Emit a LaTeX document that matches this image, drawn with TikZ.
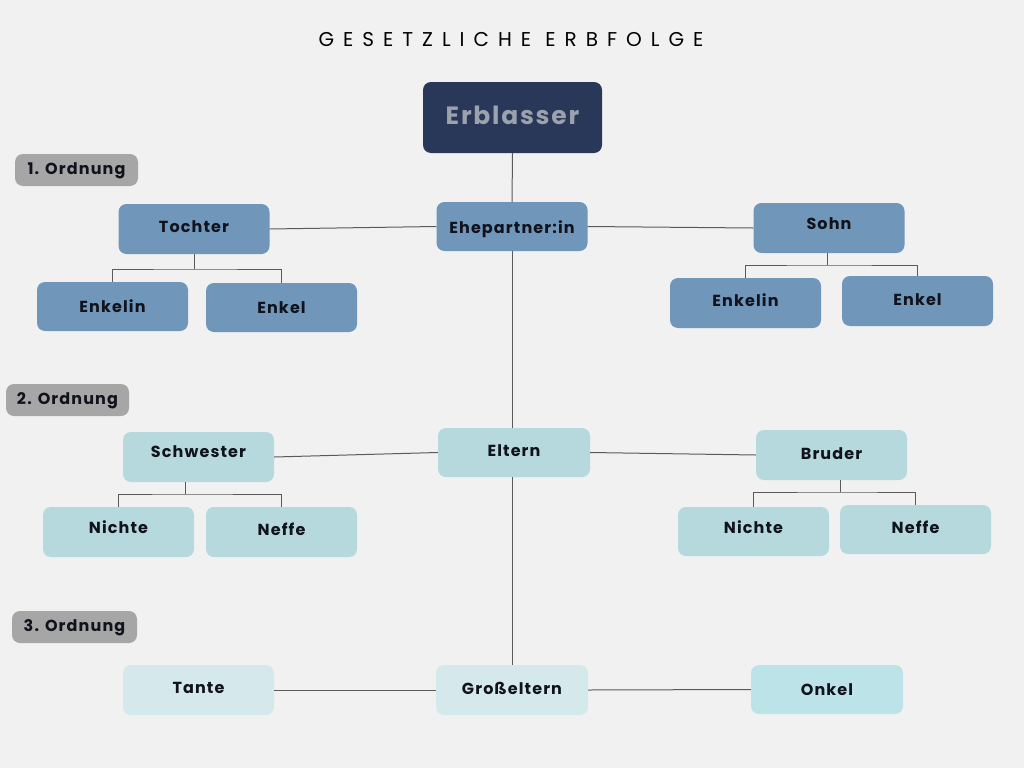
\documentclass[tikz,border=0pt]{standalone}
\usepackage{fontspec}
\setmainfont{Poppins}[BoldFont=* Bold, LetterSpace=7]
\newfontfamily\titlefont{Poppins}[LetterSpace=45]
\definecolor{bg}{HTML}{F1F1F1}
\definecolor{navy}{HTML}{293858}
\definecolor{navytext}{HTML}{9BA1AD}
\definecolor{midblue}{HTML}{7096B9}
\definecolor{teal}{HTML}{B5D9DC}
\definecolor{pale}{HTML}{D5E9ED}
\definecolor{onkelc}{HTML}{BCE3E8}
\definecolor{labelgrey}{HTML}{A6A6A6}
\definecolor{linec}{HTML}{5A5A5A}
\definecolor{txt}{HTML}{10121C}
\begin{document}
\begin{tikzpicture}[x=1pt,y=-1pt,
  box/.style={rounded corners=8pt, minimum width=151pt, minimum height=50pt, inner sep=0pt,
    text height=11pt, text depth=0pt,
    font=\fontsize{16}{19}\selectfont\bfseries, text=txt},
  up/.style={text depth=#1},
  b1/.style={box, fill=midblue},
  b2/.style={box, fill=teal},
  b3/.style={box, fill=pale},
  lab/.style={rounded corners=8pt, fill=labelgrey, minimum width=123pt, minimum height=32pt, inner sep=0pt,
    text height=11pt, text depth=2pt,
    font=\fontsize{16}{19}\selectfont\bfseries, text=txt},
  conn/.style={draw=linec, line width=1pt}]
\useasboundingbox (0,0) rectangle (1024,768);
\fill[bg] (0,0) rectangle (1024,768);
\node[text height=14pt, text depth=0pt, inner sep=0pt] (title) at (511,40) {\titlefont\fontsize{20}{24}\selectfont GESETZLICHE ERBFOLGE};
\node[box, fill=navy, text=navytext, minimum width=179pt, minimum height=71pt, text height=17.5pt, text depth=4pt, font=\fontsize{25}{30}\selectfont\bfseries] (erb) at (512.5,117.5) {Erblasser};
\node[lab] (o1) at (76.5,170) {1. Ordnung};
\node[lab] (o2) at (67.5,400) {2. Ordnung};
\node[lab, minimum width=125pt] (o3) at (74.5,627) {3. Ordnung};
% 1. Ordnung
\node[b1, up=4pt] (toch) at (194,229) {Tochter};
\node[b1, minimum height=49pt, text height=14pt] (ehe) at (512,226.5) {Ehepartner:in};
\node[b1, up=8pt] (sohn) at (829,228) {Sohn};
\node[b1, minimum height=49pt] (enkinL) at (112.5,306.5) {Enkelin};
\node[b1, minimum height=49pt] (enkL) at (281.5,307.5) {Enkel};
\node[b1, up=4pt] (enkinR) at (745.5,303) {Enkelin};
\node[b1, up=2pt] (enkR) at (917.5,301) {Enkel};
% 2. Ordnung
\node[b2, up=10pt] (schw) at (198.5,457) {Schwester};
\node[b2, minimum width=152pt, minimum height=49pt, up=3pt] (elt) at (514,452.5) {Eltern};
\node[b2, up=2pt] (brud) at (831.5,455) {Bruder};
\node[b2, up=8pt] (nichL) at (118.5,532) {Nichte};
\node[b2, up=4pt] (neffL) at (281.5,532) {Neffe};
\node[b2, minimum height=49pt, up=8pt] (nichR) at (753.5,531.5) {Nichte};
\node[b2, minimum height=49pt, up=4pt] (neffR) at (915.5,529.5) {Neffe};
% 3. Ordnung
\node[b3, up=4pt] (tante) at (198.5,690) {Tante};
\node[b3, minimum width=152pt, up=2pt] (gross) at (512,690) {Großeltern};
\node[box, fill=onkelc, minimum width=152pt, minimum height=49pt] (onkel) at (827,689.5) {Onkel};
% connectors
\draw[conn] (erb.south) -- (ehe.north);
\draw[conn] (toch.east) -- (ehe.west);
\draw[conn] (ehe.east) -- (sohn.west);
\draw[conn] (ehe.south) -- (ehe.south |- elt.north);
\draw[conn] (schw.east) -- (elt.west);
\draw[conn] (elt.east) -- (brud.west);
\draw[conn] (gross.north -| ehe.south) -- (ehe.south |- elt.south);
\draw[conn] (tante.east) -- (gross.west);
\draw[conn] (gross.east) -- (onkel.west);
% child brackets
\coordinate (tb) at (194,269);
\draw[conn] (toch.south) -- (tb);
\draw[conn] (enkinL.north) |- (tb) -| (enkL.north);
\coordinate (sb) at (827,265);
\draw[conn] (sohn.south -| sb) -- (sb);
\draw[conn] (enkinR.north) |- (sb) -| (enkR.north);
\coordinate (swb) at (185,494);
\draw[conn] (schw.south -| swb) -- (swb);
\draw[conn] (nichL.north) |- (swb) -| (neffL.north);
\coordinate (bb) at (840,492);
\draw[conn] (brud.south -| bb) -- (bb);
\draw[conn] (nichR.north) |- (bb) -| (neffR.north);
\end{tikzpicture}
\end{document}
